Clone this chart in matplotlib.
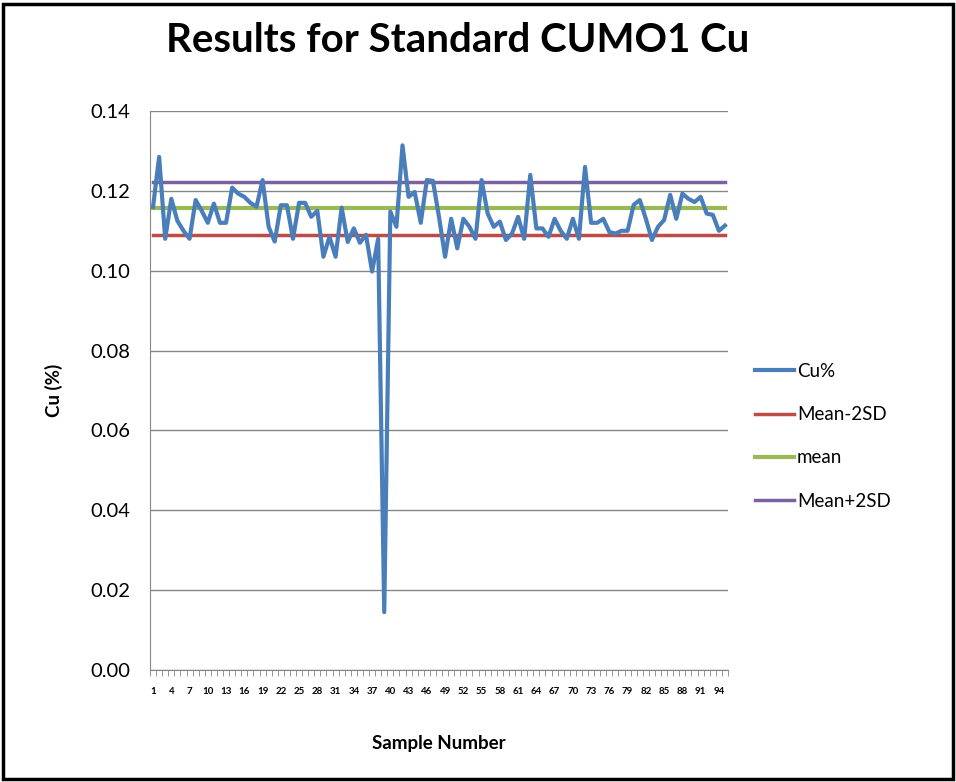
import matplotlib
matplotlib.use('Agg')
import matplotlib.pyplot as plt
import numpy as np
from matplotlib.patches import Rectangle

plt.rcParams['font.family'] = ['Lato', 'DejaVu Sans']

# sample numbers 1..95 and Cu% values
samples = list(range(1, 96))
cu = [0.116, 0.1285, 0.108, 0.118, 0.1125, 0.110, 0.108, 0.1177, 0.115, 0.112,
      0.1168, 0.112, 0.112, 0.1208, 0.1193, 0.1185, 0.117, 0.116, 0.1227, 0.111,
      0.1073, 0.1164, 0.1164, 0.108, 0.117, 0.117, 0.1135, 0.115, 0.1035, 0.1085,
      0.1035, 0.1158, 0.1072, 0.1106, 0.107, 0.109, 0.0998, 0.108, 0.0145, 0.1148,
      0.111, 0.1314, 0.1185, 0.1197, 0.112, 0.1227, 0.1225, 0.1135, 0.1035, 0.113,
      0.1056, 0.113, 0.111, 0.108, 0.1227, 0.1143, 0.111, 0.1123, 0.1077, 0.1093,
      0.1135, 0.108, 0.124, 0.1106, 0.1106, 0.1085, 0.113, 0.110, 0.108, 0.113,
      0.108, 0.126, 0.112, 0.112, 0.113, 0.1097, 0.1093, 0.110, 0.110, 0.1165,
      0.1177, 0.113, 0.1077, 0.111, 0.1127, 0.119, 0.113, 0.1193, 0.118, 0.1172,
      0.1185, 0.1143, 0.114, 0.110, 0.1113]
mean_val = 0.1157
sd2_low = 0.1089
sd2_high = 0.1222

fig = plt.figure(figsize=(9.56, 7.82), dpi=100)
ax = fig.add_axes([150/956, 1-670/782, (728-150)/956, (670-111)/782])

ax.plot(samples, cu, color='#4A7EBB', lw=3, label='Cu%', zorder=5)
ax.plot(samples, [sd2_low]*len(samples), color='#BE4B48', lw=2.5, label='Mean-2SD', zorder=4)
ax.plot(samples, [mean_val]*len(samples), color='#98B954', lw=3, label='mean', zorder=4)
ax.plot(samples, [sd2_high]*len(samples), color='#7D60A0', lw=2.5, label='Mean+2SD', zorder=4)

ax.set_ylim(0, 0.14)
ax.set_xlim(0.5, 95.5)
ax.set_yticks(np.arange(0, 0.141, 0.02))
ax.set_yticklabels(['%.2f' % v for v in np.arange(0, 0.141, 0.02)], fontsize=14.5)
ax.yaxis.grid(True, color='#868686', lw=1)
ax.set_axisbelow(True)

ax.set_xticks(samples[::3])
ax.set_xticklabels([str(s) for s in samples[::3]], fontsize=7, fontweight='bold')
ax.set_xticks(np.arange(0.5, 96, 1), minor=True)
ax.tick_params(axis='x', which='major', length=0, pad=12)
ax.tick_params(axis='x', which='minor', length=4, color='#868686', direction='out')
ax.tick_params(axis='y', length=0, pad=14)

for s in ['top', 'right']:
    ax.spines[s].set_visible(False)
for s in ['left', 'bottom']:
    ax.spines[s].set_color('#868686')

ax.set_ylabel('Cu (%)', fontsize=13.5, fontweight='bold', labelpad=20)
ax.set_xlabel('Sample Number', fontsize=13.5, fontweight='bold', labelpad=28)

fig.text(458/956, 1-41/782, 'Results for Standard CUMO1 Cu', fontsize=29,
         fontweight='bold', ha='center', va='center')

fig.legend(loc='upper left', bbox_to_anchor=(738/956, 1-346/782), frameon=False,
           fontsize=13.5, handlelength=2.1, labelspacing=1.4, handletextpad=0.15)

fig.patches.append(Rectangle((3/956, 3/782), 950/956, 775/782, transform=fig.transFigure,
                             fill=False, edgecolor='black', lw=2.5))

fig.savefig('out.png', dpi=100)
